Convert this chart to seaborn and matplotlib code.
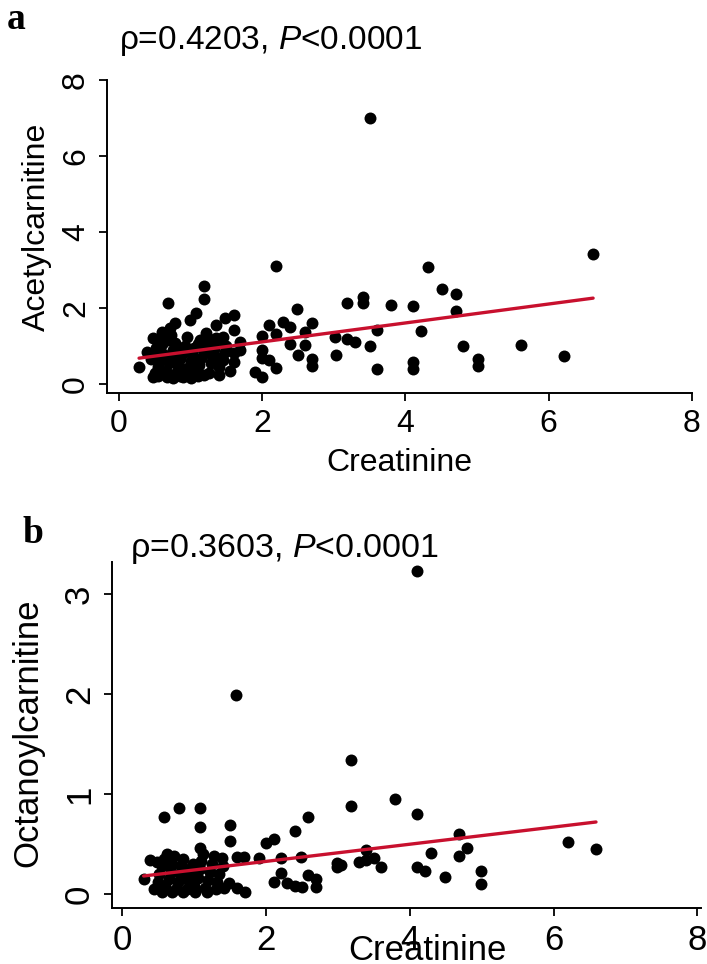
"""Creatinine vs acylcarnitines: two stacked scatter panels with linear fit."""
import matplotlib
matplotlib.use("Agg")
import matplotlib.pyplot as plt
import pandas as pd
import seaborn as sns

# ---- panel a: Creatinine vs Acetylcarnitine --------------------------------
CREAT_A = [
    0.28, 0.68, 1.19, 1.19, 2.19, 3.19, 2.49, 1.08, 0.99, 1.60, 1.48, 0.78,
    2.29, 2.39, 2.69, 2.10, 1.99, 2.19, 2.60, 3.01, 3.19, 2.39, 2.60, 2.50,
    2.69, 2.69, 3.03, 1.99, 1.99, 2.10, 2.19, 1.90, 1.99, 1.60, 1.60, 1.69,
    1.69, 1.60, 1.36, 1.22, 1.13, 1.36, 1.36, 1.39, 1.18, 1.04, 0.48, 0.60,
    0.71, 0.39, 0.48, 0.67, 0.90, 1.08, 0.78, 0.90,
    3.51, 6.62, 4.31, 4.51, 4.71, 4.71, 3.40, 3.40, 3.80, 4.11, 3.60, 4.21,
    3.30, 3.50, 4.81, 5.61, 6.22, 5.01, 5.01, 4.11, 4.11, 3.60,
    0.50, 0.55, 0.58, 0.62, 0.52, 0.60, 0.65, 0.70, 0.72, 0.75, 0.68, 0.80,
    0.82, 0.85, 0.88, 0.92, 0.95, 0.98, 1.00, 1.02, 1.05, 1.10, 1.12, 1.15,
    1.18, 1.20, 1.25, 1.28, 1.30, 1.32, 1.35, 1.40, 1.45, 1.48, 1.50, 1.55,
    0.45, 0.48, 0.55, 0.62, 0.75, 0.85, 1.00, 1.10, 0.72, 0.95, 1.25, 1.45,
    0.88, 1.08, 0.58,
]
ACETYL = [
    0.46, 2.14, 2.58, 2.25, 3.10, 2.14, 1.97, 1.86, 1.68, 1.82, 1.73, 1.61,
    1.64, 1.51, 1.61, 1.55, 1.26, 1.32, 1.38, 1.25, 1.18, 1.04, 1.03, 0.76,
    0.65, 0.47, 0.76, 0.89, 0.68, 0.63, 0.41, 0.32, 0.19, 0.81, 0.59, 0.89,
    1.11, 1.42, 1.55, 1.33, 1.16, 1.20, 0.72, 0.24, 0.24, 0.37, 1.20, 1.38,
    1.47, 0.85, 0.19, 0.19, 0.19, 0.32, 1.07, 0.89,
    6.99, 3.41, 3.09, 2.50, 2.37, 1.93, 2.28, 2.12, 2.08, 2.05, 1.42, 1.39,
    1.10, 1.00, 0.99, 1.03, 0.75, 0.65, 0.47, 0.57, 0.39, 0.39,
    0.30, 0.45, 0.62, 0.80, 0.95, 1.05, 0.35, 0.55, 0.72, 0.90, 1.15, 0.30,
    0.48, 0.65, 0.80, 1.00, 0.25, 0.45, 0.60, 0.78, 0.95, 1.05, 0.50, 0.68,
    0.85, 1.00, 0.30, 0.55, 0.75, 0.92, 1.05, 0.45, 0.62, 0.85, 1.00, 0.35,
    0.65, 0.80, 0.20, 0.28, 0.15, 0.22, 0.15, 0.20, 1.28, 1.25, 1.18, 1.25,
    0.40, 0.40, 1.25,
]
FIT_A_X = [0.28, 6.62]
FIT_A_Y = [0.68, 2.26]

# ---- panel b: Creatinine vs Octanoylcarnitine ------------------------------
CREAT_B = [
    0.30, 0.39, 0.59, 0.79, 1.09, 1.09, 1.09, 1.50, 1.50, 2.00, 2.11, 2.40,
    2.59, 3.19, 3.19, 2.99, 2.99, 2.49, 2.21, 1.91, 1.60, 1.70, 1.39, 2.21,
    2.11, 2.30, 2.40, 2.50, 2.59, 2.69, 2.69, 1.60, 1.71, 1.49, 1.18,
    1.59, 4.10,
    3.80, 4.10, 4.69, 4.79, 4.69, 4.30, 3.39, 3.29, 3.39, 3.50, 3.60, 3.05,
    4.10, 4.21, 4.49, 4.99, 4.99, 6.20, 6.59,
    0.45, 0.50, 0.52, 0.55, 0.58, 0.60, 0.65, 0.68, 0.70, 0.75, 0.78, 0.80,
    0.82, 0.85, 0.90, 0.92, 0.95, 0.98, 1.00, 1.05, 1.08, 1.10, 1.15, 1.20,
    1.22, 1.25, 1.30, 1.32, 1.35, 1.40, 1.42, 0.48, 0.62, 0.72, 0.88, 1.12,
    1.28, 0.55, 0.70, 0.85, 1.02,
]
OCTANOYL = [
    0.15, 0.34, 0.77, 0.86, 0.86, 0.67, 0.46, 0.69, 0.53, 0.51, 0.55, 0.63,
    0.77, 1.34, 0.88, 0.31, 0.27, 0.37, 0.36, 0.36, 0.37, 0.37, 0.36, 0.21,
    0.12, 0.11, 0.08, 0.07, 0.19, 0.15, 0.07, 0.06, 0.02, 0.11, 0.02,
    1.99, 3.23,
    0.95, 0.80, 0.60, 0.46, 0.38, 0.41, 0.44, 0.32, 0.34, 0.36, 0.27, 0.29,
    0.27, 0.23, 0.17, 0.23, 0.10, 0.52, 0.45,
    0.05, 0.12, 0.20, 0.28, 0.35, 0.08, 0.15, 0.22, 0.30, 0.05, 0.12, 0.20,
    0.28, 0.35, 0.05, 0.14, 0.22, 0.30, 0.08, 0.16, 0.25, 0.33, 0.06, 0.14,
    0.22, 0.30, 0.05, 0.12, 0.20, 0.28, 0.06, 0.32, 0.40, 0.38, 0.25, 0.40,
    0.38, 0.02, 0.02, 0.02, 0.02,
]
FIT_B_X = [0.30, 6.59]
FIT_B_Y = [0.18, 0.72]

X_TICKS = [0, 2, 4, 6, 8]
Y_TICKS_A = [0, 2, 4, 6, 8]
Y_TICKS_B = [0, 1, 2, 3]

RED = "#c8102e"

sns.set_style("ticks")
plt.rcParams["font.family"] = ["Liberation Sans", "DejaVu Sans"]
plt.rcParams["mathtext.fontset"] = "custom"
plt.rcParams["mathtext.rm"] = "Liberation Sans"
plt.rcParams["mathtext.it"] = "Liberation Sans:italic"
# Stata-style output: everything in pure black
for key in ("text.color", "axes.labelcolor", "xtick.color", "ytick.color",
            "axes.edgecolor"):
    plt.rcParams[key] = "black"

fig = plt.figure(figsize=(7.07, 9.64), dpi=100)
ax_a = fig.add_axes([0.1513, 0.5923, 0.8274, 0.3247])
ax_b = fig.add_axes([0.1584, 0.0581, 0.8331, 0.3589])


def draw_panel(ax, x, y, fx, fy, yname, xlim, ylim, yticks, fs):
    df = pd.DataFrame({"Creatinine": x, yname: y})
    fit = pd.DataFrame({"Creatinine": fx, yname: fy})
    sns.scatterplot(data=df, x="Creatinine", y=yname, ax=ax, color="black",
                    s=74, linewidth=0, zorder=3)
    sns.lineplot(data=fit, x="Creatinine", y=yname, ax=ax, color=RED,
                 linewidth=2.4, zorder=4)
    ax.set_xlim(*xlim)
    ax.set_ylim(*ylim)
    ax.set_xticks(X_TICKS)
    ax.set_yticks(yticks)
    for side in ("top", "right"):
        ax.spines[side].set_visible(False)
    for side in ("left", "bottom"):
        ax.spines[side].set_linewidth(1.4)
    ax.tick_params(axis="both", length=5.5, width=1.3, labelsize=fs, pad=6)
    ax.tick_params(axis="y", labelrotation=90)
    for lbl in ax.get_yticklabels():
        lbl.set_va("center")
    ax.set_xlabel("Creatinine", fontsize=fs)
    ax.set_ylabel(yname, fontsize=fs, va="center")


draw_panel(ax_a, CREAT_A, ACETYL, FIT_A_X, FIT_A_Y, "Acetylcarnitine",
           (-0.168, 8.0), (-0.237, 8.0), Y_TICKS_A, 23)
draw_panel(ax_b, CREAT_B, OCTANOYL, FIT_B_X, FIT_B_Y, "Octanoylcarnitine",
           (-0.14, 8.05), (-0.14, 3.32), Y_TICKS_B, 25)

# label placement measured in axes fractions
ax_a.yaxis.set_label_coords(-0.12, 0.53)
ax_a.xaxis.set_label_coords(0.50, -0.175)
ax_b.yaxis.set_label_coords(-0.143, 0.506)
# in the original the bottom label runs into the tick labels
ax_b.xaxis.label.set_va("bottom")
ax_b.xaxis.set_label_coords(0.535, -0.170)

fig.text(0.009, 0.970, "a", fontsize=27, fontweight="bold",
         family=["Liberation Serif", "DejaVu Serif"], va="baseline")
fig.text(0.168, 0.949, r"ρ=0.4203, $P$<0.0001", fontsize=24, va="baseline")
fig.text(0.032, 0.437, "b", fontsize=27, fontweight="bold",
         family=["Liberation Serif", "DejaVu Serif"], va="baseline")
fig.text(0.184, 0.422, r"ρ=0.3603, $P$<0.0001", fontsize=24.5, va="baseline")

fig.savefig("out.png", dpi=100)
